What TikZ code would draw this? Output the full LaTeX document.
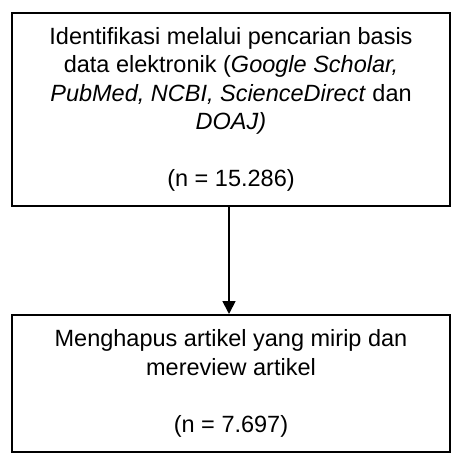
\documentclass[tikz,border=0pt]{standalone}
\usepackage{fontspec}
\setmainfont{Liberation Sans}
\usetikzlibrary{arrows.meta}
\begin{document}
\begin{tikzpicture}[x=1pt,y=-1pt,
  flowbox/.style={draw=black, line width=2pt, rectangle, inner sep=0pt,
    minimum width=438pt, align=center,
    font=\fontsize{23.5pt}{28.4pt}\selectfont},
  flowarrow/.style={line width=1.8pt, -{Triangle[width=13pt,length=13pt]}}]
\useasboundingbox (0,0) rectangle (464,464);
\node[flowbox, minimum height=193pt] (top) at (231,109.5)
  {Identifikasi melalui pencarian basis\\
   data elektronik (\textit{Google Scholar,}\\
   \textit{PubMed, NCBI, ScienceDirect} dan\\
   \textit{DOAJ)}\\[28.4pt]
   (n = 15.286)};
\node[flowbox, minimum height=137pt] (bot) at (231,383.5)
  {Menghapus artikel yang mirip dan\\
   mereview artikel\\[28.4pt]
   (n = 7.697)};
\draw[flowarrow] ([xshift=-2pt]top.south) -- ([xshift=-2pt]bot.north);
\end{tikzpicture}
\end{document}
